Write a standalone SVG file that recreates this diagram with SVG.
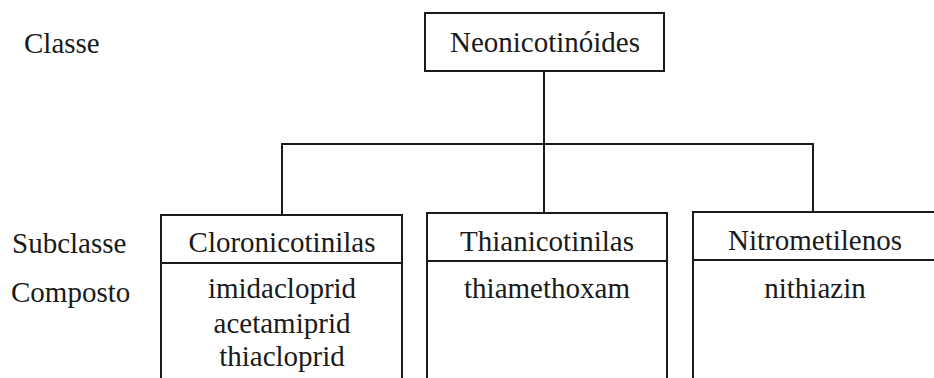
<svg xmlns="http://www.w3.org/2000/svg" width="934" height="378" viewBox="0 0 934 378">
<style>
text{font-family:"Liberation Serif","Times New Roman",serif;font-size:29px;fill:#1a1a1a}
.c{text-anchor:middle}
.box{fill:none;stroke:#1a1a1a;stroke-width:2}
.ln{fill:none;stroke:#1a1a1a;stroke-width:2}
</style>
<rect width="934" height="378" fill="#ffffff"/>
<g id="labels">
<text x="24" y="53">Classe</text>
<text x="12" y="253">Subclasse</text>
<text x="11" y="302">Composto</text>
</g>
<g id="connectors">
<path class="ln" d="M544 71V213M282 215V144H813V212"/>
</g>
<g id="neonicotinoides">
<rect class="box" x="425" y="13" width="239" height="58"/>
<text class="c" x="545" y="52">Neonicotinóides</text>
</g>
<g id="cloronicotinilas">
<path class="box" d="M161 380V215H402V380M161 263H402"/>
<text class="c" x="282" y="252">Cloronicotinilas</text>
<text class="c" x="282" y="298">imidacloprid</text>
<text class="c" x="282" y="333">acetamiprid</text>
<text class="c" x="282" y="366">thiacloprid</text>
</g>
<g id="thianicotinilas">
<path class="box" d="M427 380V213H667V380M427 261H667"/>
<text class="c" x="547" y="251">Thianicotinilas</text>
<text class="c" x="547" y="298">thiamethoxam</text>
</g>
<g id="nitrometilenos">
<path class="box" d="M693 380V212H940M693 260H940"/>
<text class="c" x="815" y="250">Nitrometilenos</text>
<text class="c" x="815" y="298">nithiazin</text>
</g>
</svg>
